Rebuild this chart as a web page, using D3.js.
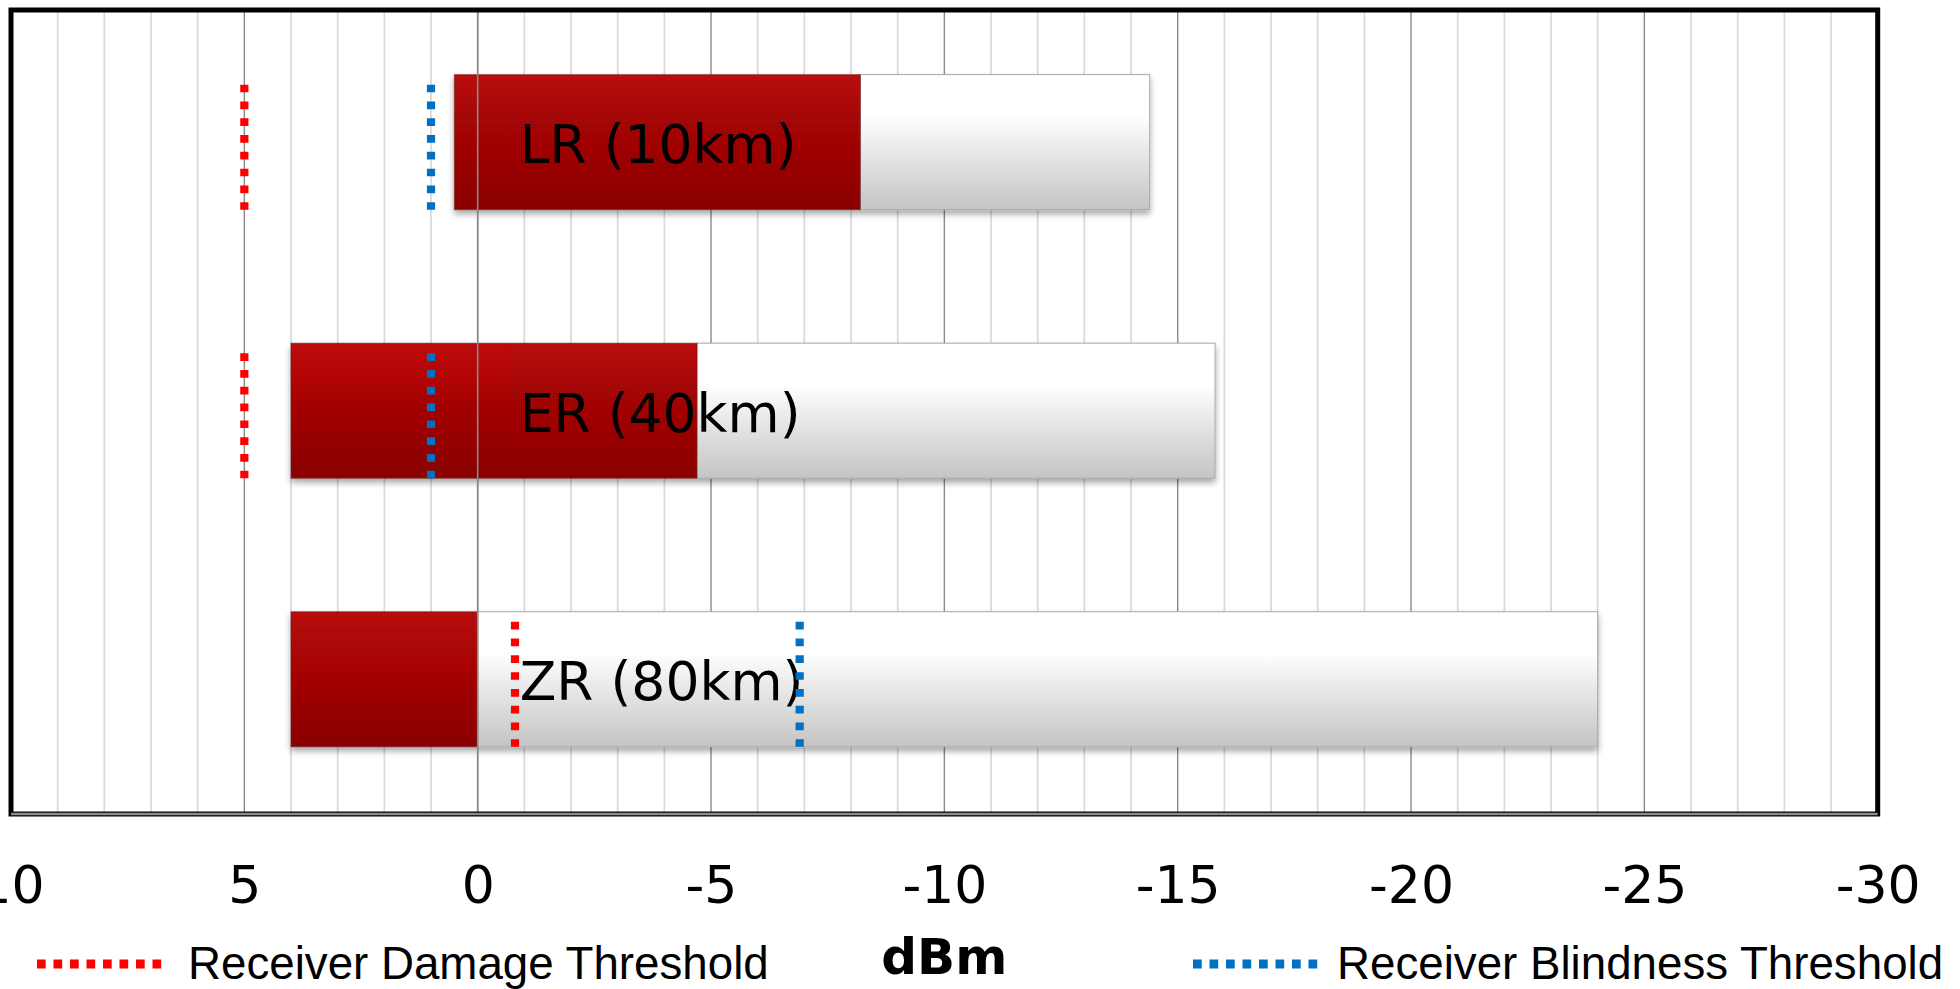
<!DOCTYPE html>
<html><head><meta charset="utf-8">
<script src="https://cdn.jsdelivr.net/npm/d3@7"></script>
<style>html,body{margin:0;padding:0;background:#fff;overflow:hidden}</style>
</head><body><svg id="chart" width="1960" height="989"></svg>
<script>
// ---- data ----
const categories = ["LR (10km)", "ER (40km)", "ZR (80km)"];
const txMax = [0.5, 4.0, 4.0];          // start of red segment (dBm)
const txMin = [-8.2, -4.7, 0.0];        // end of red / start of white segment
const rxSensitivity = [-14.4, -15.8, -24.0]; // end of white segment
const damageThreshold = [5, 5, -0.8];
const blindnessThreshold = [1, 1, -6.9];
const xTicks = [10, 5, 0, -5, -10, -15, -20, -25, -30];
const legendLabels = ["Receiver Damage Threshold", "Receiver Blindness Threshold"];
const axisTitle = "dBm";

(function () {
const rows = categories.map((c, i) => ({
  cat: c, txMax: txMax[i], txMin: txMin[i], rx: rxSensitivity[i],
  dmg: damageThreshold[i], blind: blindnessThreshold[i]
}));

// ---- layout ----
const pLeft = 11, pRight = 1877.7, pTop = 10, pBottom = 814;
const svg = d3.select("#chart");
const x = d3.scaleLinear().domain([10, -30]).range([pLeft, pRight]);
const y = d3.scaleBand().domain(categories).range([12, 812])
  .paddingInner(0.497).paddingOuter(0.238).align(0.49);

const defs = svg.append("defs");
const gRed = defs.append("linearGradient").attr("id", "gRed").attr("x1", 0).attr("y1", 0).attr("x2", 0).attr("y2", 1);
gRed.append("stop").attr("offset", "0%").attr("stop-color", "#ba0707");
gRed.append("stop").attr("offset", "100%").attr("stop-color", "#890505");
const gWhite = defs.append("linearGradient").attr("id", "gWhite").attr("x1", 0).attr("y1", 0).attr("x2", 0).attr("y2", 1);
gWhite.append("stop").attr("offset", "0%").attr("stop-color", "#ffffff");
gWhite.append("stop").attr("offset", "30%").attr("stop-color", "#ffffff");
gWhite.append("stop").attr("offset", "100%").attr("stop-color", "#c4c4c4");
const shadow = defs.append("filter").attr("id", "shadow").attr("x", "-5%").attr("y", "-10%").attr("width", "110%").attr("height", "130%");
shadow.append("feDropShadow").attr("dx", 0).attr("dy", 4).attr("stdDeviation", 3)
  .attr("flood-color", "#000").attr("flood-opacity", 0.35);

// gridlines
const grid = svg.append("g");
const gridVals = d3.range(-30, 11, 1);
grid.selectAll("line").data(gridVals).join("line")
  .attr("x1", d => x(d)).attr("x2", d => x(d))
  .attr("y1", pTop).attr("y2", pBottom)
  .attr("stroke", d => d % 5 === 0 ? "#8a8a8a" : "#d9d9d9")
  .attr("stroke-width", d => d % 5 === 0 ? 1.4 : 1.7);

// bars
const bars = svg.append("g").selectAll("g").data(rows).join("g").attr("filter", "url(#shadow)");
bars.append("rect")
  .attr("x", d => x(d.txMin)).attr("width", d => x(d.rx) - x(d.txMin))
  .attr("y", d => y(d.cat)).attr("height", y.bandwidth())
  .attr("fill", "url(#gWhite)").attr("stroke", "#a8a8a8").attr("stroke-width", 1);
bars.append("rect")
  .attr("x", d => x(d.txMax)).attr("width", d => x(d.txMin) - x(d.txMax))
  .attr("y", d => y(d.cat)).attr("height", y.bandwidth())
  .attr("fill", "url(#gRed)").attr("stroke", "rgba(110,40,40,0.6)").attr("stroke-width", 1);

// zero (category) axis line on top of bars
svg.append("line").attr("x1", x(0)).attr("x2", x(0)).attr("y1", pTop).attr("y2", pBottom)
  .attr("stroke", "#8a8a8a").attr("stroke-width", 1.6);

// bar labels
svg.append("g").selectAll("text").data(rows).join("text")
  .attr("x", x(0) + 42).attr("y", d => y(d.cat) + y.bandwidth() / 2 + 21)
  .attr("font-family", "DejaVu Sans").attr("font-size", 53.5).attr("fill", "#000")
  .text(d => d.cat);

// threshold lines
const thr = svg.append("g");
function thresholdLines(key, color) {
  thr.append("g").selectAll("line").data(rows).join("line")
    .attr("x1", d => x(d[key])).attr("x2", d => x(d[key]))
    .attr("y1", d => y(d.cat) + 10).attr("y2", d => y(d.cat) + y.bandwidth())
    .attr("stroke", color).attr("stroke-width", 8.2).attr("stroke-dasharray", "7.7 9.1");
}
thresholdLines("dmg", "#ff0000");
thresholdLines("blind", "#0070c0");

// frame
svg.append("rect").attr("x", pLeft).attr("y", pTop).attr("width", pRight - pLeft).attr("height", pBottom - pTop)
  .attr("fill", "none").attr("stroke", "#000").attr("stroke-width", 5);
svg.append("line").attr("x1", pLeft).attr("x2", pRight).attr("y1", pBottom).attr("y2", pBottom)
  .attr("stroke", "#8c8c8c").attr("stroke-width", 2.4);

// x axis labels
const axis = svg.append("g").attr("transform", `translate(0,${pBottom})`)
  .call(d3.axisBottom(x).tickValues(xTicks).tickSize(0).tickFormat(d => String(d)));
axis.select(".domain").remove();
axis.selectAll("text").attr("y", 89).attr("dy", null)
  .attr("font-family", "DejaVu Sans").attr("font-size", 52).attr("fill", "#000");

// axis title
svg.append("text").attr("x", (pLeft + pRight) / 2).attr("y", 974).attr("text-anchor", "middle")
  .attr("font-family", "DejaVu Sans").attr("font-weight", "bold").attr("font-size", 50)
  .attr("fill", "#000").text(axisTitle);

// legend
const legendItems = [
  { label: legendLabels[0], color: "#ff0000", x0: 37, x1: 163, tx: 188 },
  { label: legendLabels[1], color: "#0070c0", x0: 1193, x1: 1318, tx: 1337 }
];
const lg = svg.append("g").selectAll("g").data(legendItems).join("g");
lg.append("line").attr("x1", d => d.x0).attr("x2", d => d.x1).attr("y1", 964).attr("y2", 964)
  .attr("stroke", d => d.color).attr("stroke-width", 9).attr("stroke-dasharray", "8.7 7.8");
lg.append("text").attr("x", d => d.tx).attr("y", 979)
  .attr("font-family", "Liberation Sans, Arial, sans-serif").attr("font-size", 45.7).attr("fill", "#000")
  .text(d => d.label);
})();
</script></body></html>
